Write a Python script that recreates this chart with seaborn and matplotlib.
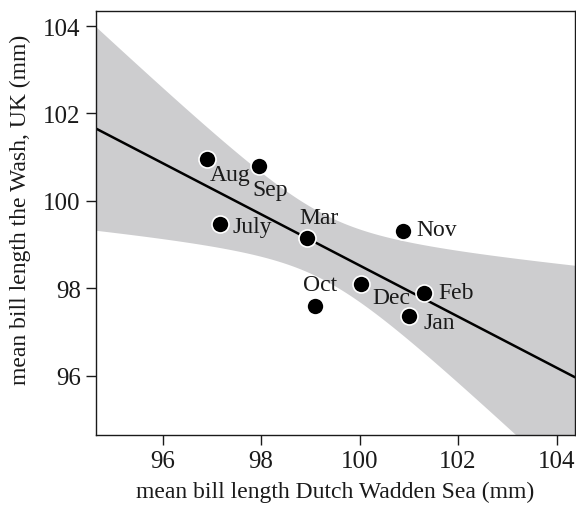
import numpy as np
import pandas as pd
import matplotlib
matplotlib.use('Agg')
import matplotlib.pyplot as plt
import seaborn as sns

# Monthly mean bill lengths
months = ['Aug', 'Sep', 'July', 'Mar', 'Nov', 'Oct', 'Dec', 'Feb', 'Jan']
wadden = [96.91, 97.95, 97.16, 98.94, 100.88, 99.09, 100.03, 101.31, 101.01]
wash = [100.95, 100.79, 99.47, 99.16, 99.31, 97.59, 98.10, 97.90, 97.37]

x_ticks = [96, 98, 100, 102, 104]
y_ticks = [96, 98, 100, 102, 104]

# label offsets in pixels relative to each point (dx, dy), y up
label_offsets = {'Aug': (2, -15), 'Sep': (-6, -23), 'July': (13, -2),
                 'Mar': (-8, 20), 'Nov': (13, 2), 'Oct': (-12, 22),
                 'Dec': (11, -14), 'Feb': (14, 0), 'Jan': (14, -7)}

df = pd.DataFrame({'month': months, 'wadden': wadden, 'wash': wash})

sns.set_style('ticks')
plt.rcParams['font.family'] = ['Liberation Serif', 'DejaVu Serif']
plt.rcParams['axes.linewidth'] = 1.0

fig = plt.figure(figsize=(5.76, 5.06), dpi=100)
ax = fig.add_axes([0.1667, 0.138, 0.8313, 0.838])
ax.set_xlim(94.65, 104.37)
ax.set_ylim(94.64, 104.34)

# analytic 95% confidence band of the OLS fit
xv = df['wadden'].to_numpy()
yv = df['wash'].to_numpy()
n = len(xv)
slope, intercept = np.polyfit(xv, yv, 1)
resid = yv - (intercept + slope * xv)
s = np.sqrt(np.sum(resid ** 2) / (n - 2))
sxx = np.sum((xv - xv.mean()) ** 2)
grid = np.linspace(94.65, 104.37, 200)
fit = intercept + slope * grid
se = s * np.sqrt(1.0 / n + (grid - xv.mean()) ** 2 / sxx)
t_crit = 2.3646  # t(0.975, df=7)
ax.fill_between(grid, fit - t_crit * se, fit + t_crit * se,
                color='#cdcdcf', linewidth=0, zorder=1)

sns.regplot(data=df, x='wadden', y='wash', ax=ax, scatter=False, ci=None,
            truncate=False, line_kws={'color': 'black', 'lw': 1.8, 'zorder': 2})

sns.scatterplot(data=df, x='wadden', y='wash', ax=ax, color='black', s=150,
                edgecolor='white', linewidth=1.2, zorder=3)

txt_col = '#1a1a1a'
for m, xx, yy in zip(months, wadden, wash):
    dx, dy = label_offsets[m]
    ax.annotate(m, (xx, yy), xytext=(dx, dy), textcoords='offset pixels',
                ha='left', va='center', fontsize=17, color=txt_col, zorder=4)

ax.set_xticks(x_ticks)
ax.set_yticks(y_ticks)
ax.tick_params(axis='both', labelsize=18, length=7, width=1, direction='out',
               colors=txt_col, pad=4)
ax.set_xlabel('mean bill length Dutch Wadden Sea (mm)', fontsize=17, color=txt_col, labelpad=6)
ax.set_ylabel('mean bill length the Wash, UK (mm)', fontsize=17, color=txt_col)
ax.yaxis.set_label_coords(-0.135, 0.533)
for sp in ax.spines.values():
    sp.set_visible(True)
    sp.set_color(txt_col)

fig.savefig('out.png', dpi=100)
